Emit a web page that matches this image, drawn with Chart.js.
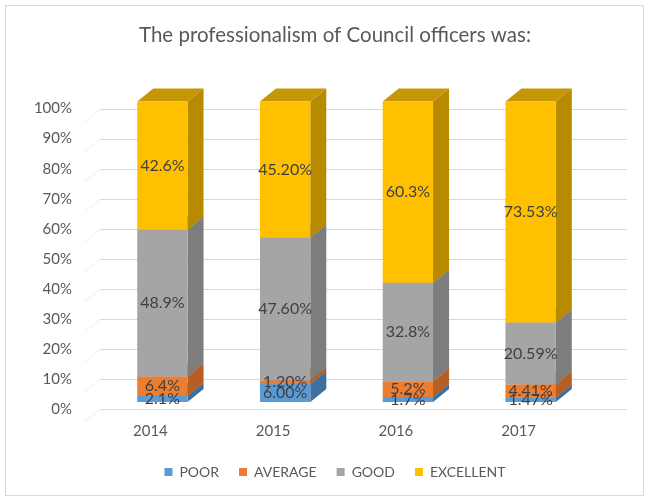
<!DOCTYPE html>
<html lang="en">
<head>
    <meta charset="UTF-8">
    <title>The professionalism of Council officers was:</title>
    <script src="https://cdn.jsdelivr.net/npm/chart.js"></script>
    <style>
        body {
            margin: 0;
            background: #fff;
        }

        .chart-box {
            width: 648px;
            height: 500px;
        }
    </style>
</head>
<body>
    <div class="chart-box">
        <canvas id="proChart" width="648" height="500"></canvas>
    </div>

    <script>
        const years = ['2014', '2015', '2016', '2017'];
        const poor = [2.1, 6.00, 1.7, 1.47];
        const average = [6.4, 1.20, 5.2, 4.41];
        const good = [48.9, 47.60, 32.8, 20.59];
        const excellent = [42.6, 45.20, 60.3, 73.53];
        // decimals each year's labels were printed with
        const labelDecimals = [1, 2, 1, 2];
        const yTickValues = [0, 10, 20, 30, 40, 50, 60, 70, 80, 90, 100];

        const FONT = 'Lato, "Open Sans", sans-serif';
        const TEXT = '#595959';

        // 3D look: depth of the boxes and offset of the front faces
        const depthX = 16, depthY = 13;
        const shiftX = 12, shiftY = -7;

        const box3d = {
            id: 'box3d',
            beforeDraw(chart) {
                const ctx = chart.ctx;
                ctx.save();
                ctx.strokeStyle = '#d9d9d9';
                ctx.lineWidth = 1;
                ctx.strokeRect(5.5, 5.5, 638, 490);
                ctx.restore();
            },
            beforeDatasetsDraw(chart) {
                const ctx = chart.ctx;
                const yScale = chart.scales.y;
                const area = chart.chartArea;
                const wallLeft = area.left + 11;
                ctx.save();
                ctx.lineWidth = 1;
                yScale.ticks.forEach(t => {
                    const py = Math.round(yScale.getPixelForValue(t.value)) + 0.5;
                    ctx.strokeStyle = '#d9d9d9';
                    ctx.beginPath();
                    ctx.moveTo(wallLeft, py);
                    ctx.lineTo(area.right + 47, py);
                    ctx.stroke();
                    ctx.strokeStyle = '#ececec';
                    ctx.beginPath();
                    ctx.moveTo(wallLeft, py);
                    ctx.lineTo(wallLeft - depthX, py + depthY);
                    ctx.stroke();
                });

                ctx.translate(shiftX, shiftY);
                const boxes = [];
                chart.data.datasets.forEach((ds, i) => {
                    chart.getDatasetMeta(i).data.forEach((bar, j) => {
                        const p = bar.getProps(['x', 'y', 'base', 'width'], true);
                        const l = p.x - p.width / 2, r = p.x + p.width / 2;
                        const t = Math.min(p.y, p.base), b = Math.max(p.y, p.base);
                        ctx.fillStyle = ds.sideColor;
                        ctx.beginPath();
                        ctx.moveTo(r, t);
                        ctx.lineTo(r + depthX, t - depthY);
                        ctx.lineTo(r + depthX, b - depthY);
                        ctx.lineTo(r, b);
                        ctx.closePath();
                        ctx.fill();
                        ctx.fillStyle = ds.topColor;
                        ctx.beginPath();
                        ctx.moveTo(l, t);
                        ctx.lineTo(l + depthX, t - depthY);
                        ctx.lineTo(r + depthX, t - depthY);
                        ctx.lineTo(r, t);
                        ctx.closePath();
                        ctx.fill();
                        ctx.fillStyle = ds.backgroundColor;
                        ctx.fillRect(l, t, r - l, b - t);
                        boxes.push({ x: p.x, y: (t + b) / 2, text: ds.data[j].toFixed(labelDecimals[j]) + '%' });
                    });
                });

                ctx.fillStyle = '#404040';
                ctx.font = '16px ' + FONT;
                ctx.textAlign = 'center';
                ctx.textBaseline = 'middle';
                boxes.forEach(bx => ctx.fillText(bx.text, bx.x, bx.y));
                ctx.restore();
                return false;
            }
        };

        const ctx = document.getElementById('proChart').getContext('2d');
        const proChart = new Chart(ctx, {
            type: 'bar',
            data: {
                labels: years,
                datasets: [
                    { label: 'POOR', data: poor, backgroundColor: '#5b9bd5', sideColor: '#3f6f9c', topColor: '#4a82b5' },
                    { label: 'AVERAGE', data: average, backgroundColor: '#ed7d31', sideColor: '#b75e22', topColor: '#cf6a26' },
                    { label: 'GOOD', data: good, backgroundColor: '#a5a5a5', sideColor: '#7d7d7d', topColor: '#8e8e8e' },
                    { label: 'EXCELLENT', data: excellent, backgroundColor: '#ffc000', sideColor: '#b88a00', topColor: '#c69705' }
                ]
            },
            options: {
                responsive: false,
                animation: false,
                devicePixelRatio: 1,
                categoryPercentage: 1,
                barPercentage: 0.41,
                layout: {
                    padding: { left: 30, right: 8, top: 0, bottom: 11 }
                },
                plugins: {
                    title: {
                        display: true,
                        text: 'The professionalism of Council officers was:',
                        color: TEXT,
                        font: { family: FONT, size: 20.5, weight: 'normal' },
                        padding: { top: 23, bottom: 61 }
                    },
                    legend: {
                        position: 'bottom',
                        labels: {
                            color: TEXT,
                            boxWidth: 8,
                            boxHeight: 8,
                            padding: 20,
                            font: { family: FONT, size: 14 }
                        }
                    },
                    tooltip: { enabled: false }
                },
                scales: {
                    x: {
                        stacked: true,
                        grid: { display: false, drawTicks: false },
                        border: { display: false },
                        ticks: { color: TEXT, padding: 13, font: { family: FONT, size: 15 } },
                        afterFit(s) { s.height = 36; }
                    },
                    y: {
                        stacked: true,
                        min: 0,
                        max: 100,
                        grid: { display: false, drawTicks: false },
                        border: { display: false },
                        ticks: {
                            color: TEXT,
                            padding: 17,
                            font: { family: FONT, size: 15 },
                            callback: v => v + '%'
                        },
                        afterBuildTicks(s) { s.ticks = yTickValues.map(v => ({ value: v })); },
                        afterFit(s) { s.width = 59; }
                    },
                    // empty right-hand strip, keeps title and legend centred like the original
                    yRight: {
                        position: 'right',
                        grid: { display: false, drawTicks: false },
                        border: { display: false },
                        ticks: { display: false },
                        afterFit(s) { s.width = 60; }
                    }
                }
            },
            plugins: [box3d]
        });
    </script>
</body>
</html>
